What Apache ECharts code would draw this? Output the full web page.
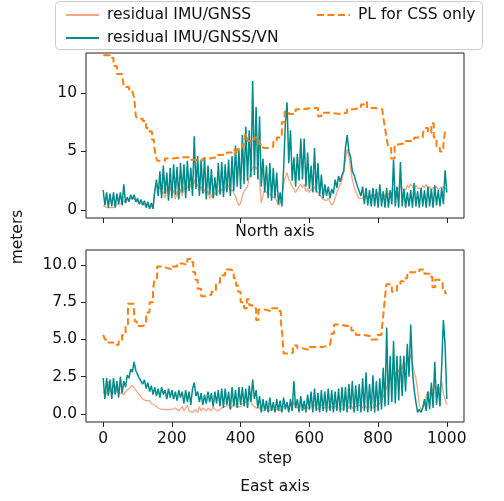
<!DOCTYPE html>
<html><head><meta charset="utf-8">
<script src="https://cdn.jsdelivr.net/npm/echarts@6/dist/echarts.min.js"></script>
<style>html,body{margin:0;padding:0;background:#fff}#c{width:504px;height:501px}</style>
</head><body><div id="c"></div>
<script>
// ---------------- DATA ----------------
const SAMPLE_STEP = 5; // residual arrays: one value every 5 steps, starting at step 0
const xTicks = [0, 200, 400, 600, 800, 1000];
const yTicksNorth = [0, 5, 10];
const yTicksEast = [0, 2.5, 5, 7.5, 10];
const seriesNames = ['residual IMU/GNSS', 'residual IMU/GNSS/VN', 'PL for CSS only'];

// North axis: residual IMU/GNSS
const resNorthGNSS = [
 0.4,0.3,0.2,0.1,0.2,0.3,0.2,0.4,0.3,0.5,
 0.4,0.6,0.8,0.6,0.9,0.8,1.0,0.9,1.0,0.8,
 0.7,0.6,0.7,0.5,0.6,0.4,0.5,0.3,0.4,0.3,
 1.5,2.2,1.8,2.0,1.4,1.6,1.0,1.8,1.3,2.0,
 1.4,1.7,0.9,1.6,1.0,1.8,1.2,2.0,1.5,2.1,
 1.8,2.2,1.7,2.6,2.0,2.2,1.6,2.0,1.4,1.8,
 1.2,1.6,1.0,1.3,1.0,1.5,1.3,1.7,1.4,1.8,
 1.6,1.9,2.0,2.1,1.5,1.8,1.4,1.2,0.7,0.4,
 0.6,1.2,1.6,1.8,2.0,2.8,3.3,3.6,3.8,3.5,
 3.7,2.5,0.6,1.2,1.8,1.5,1.6,1.3,1.4,1.1,
 1.2,0.8,0.4,0.6,1.0,2.2,2.8,3.2,2.6,2.4,
 2.0,1.8,1.5,1.8,2.0,2.2,1.9,2.2,1.6,1.8,
 1.5,1.8,1.6,2.0,1.7,1.5,1.3,1.1,0.9,1.0,
 0.8,1.0,0.7,0.4,0.6,1.0,1.5,1.9,2.2,2.6,
 3.4,4.3,5.2,4.6,3.5,2.6,2.0,1.6,1.2,1.0,
 0.9,1.0,1.1,1.2,1.0,1.3,1.1,1.4,1.2,1.5,
 1.3,1.6,1.2,1.4,1.1,1.5,1.3,1.6,1.4,1.8,
 1.5,1.7,1.6,2.0,1.8,1.9,1.7,2.1,1.9,2.2,
 2.0,1.8,2.1,1.9,2.0,1.8,2.1,1.9,2.2,1.8,
 2.0,1.7,1.9,1.8,2.0,1.7,1.9,1.8,2.0,1.8,
 1.9
];
// North axis: residual IMU/GNSS/VN
const resNorthVN = [
 1.7,0.4,1.5,0.2,1.4,0.3,1.5,0.2,1.4,0.5,
 1.5,0.4,2.2,0.6,1.1,0.7,1.3,0.9,1.3,0.7,
 1.0,0.5,0.9,0.4,0.8,0.2,0.7,0.1,0.6,0.1,
 1.6,2.6,1.2,3.3,1.0,3.8,1.4,3.2,0.8,3.6,
 1.0,3.9,1.3,3.7,0.9,4.0,1.5,3.9,1.0,4.2,
 1.6,3.6,1.2,6.3,1.8,4.6,1.2,4.3,1.4,4.5,
 0.9,3.8,1.3,3.5,1.0,2.8,1.2,4.0,1.3,4.1,
 1.1,3.9,1.5,4.3,1.2,4.6,1.6,5.5,2.0,5.1,
 1.8,6.4,2.2,7.1,2.5,6.8,2.8,11.0,3.0,8.8,
 2.6,8.0,2.0,4.4,1.5,3.8,1.0,4.0,0.8,3.6,
 1.0,3.2,0.5,1.5,0.3,3.5,7.3,9.2,4.0,6.8,
 2.5,4.5,2.0,4.8,2.5,6.1,2.6,6.1,2.0,4.9,
 1.8,3.8,1.5,5.3,1.5,4.0,1.2,3.0,1.0,2.2,
 1.2,2.0,1.0,1.8,1.4,2.6,1.9,2.9,2.4,3.0,
 3.3,5.3,6.4,5.0,4.5,3.3,3.0,2.5,2.0,1.9,
 1.2,2.0,0.5,1.9,0.4,1.7,0.3,1.9,0.3,1.8,
 0.2,2.2,0.3,1.6,0.2,1.9,0.2,1.7,0.5,4.3,
 0.3,2.0,0.2,4.1,0.3,1.8,0.2,1.5,0.3,1.7,
 0.2,2.3,0.3,1.6,0.2,1.9,0.3,1.7,0.2,2.0,
 0.3,1.8,0.2,2.1,0.4,1.7,0.3,1.9,0.5,3.4,
 1.5
];
// North axis: PL for CSS only (step changes)
const plNorthSteps = [0,20,30,40,55,60,75,85,90,95,100,115,125,135,142,148,153,157,170,180,200,230,250,270,290,310,330,360,375,385,390,405,412,420,440,455,465,480,495,505,520,528,540,560,580,610,625,635,660,690,710,730,750,762,768,790,812,815,820,825,830,838,848,858,880,905,930,935,945,955,962,970,980,990,995,1000];
const plNorthValues = [13.2,13.0,12.3,11.6,11.5,10.5,10.3,10.1,9.6,8.0,7.8,7.6,7.0,6.7,6.0,5.5,4.6,4.2,4.2,4.4,4.5,4.5,4.3,4.2,4.4,4.5,4.7,4.9,5.1,4.6,5.2,5.6,6.4,5.9,6.2,5.6,5.3,5.4,5.8,6.2,7.5,8.4,8.2,8.6,8.7,8.7,8.0,8.3,8.2,8.3,8.6,8.7,9.0,9.2,8.7,8.6,8.6,7.9,7.0,6.1,5.3,4.4,5.6,5.7,5.9,6.2,6.5,7.0,6.6,7.4,6.2,5.3,5.0,5.6,6.8,6.8];

// East axis: residual IMU/GNSS
const resEastGNSS = [
 1.4,1.6,1.3,2.2,1.5,1.6,1.4,1.7,1.5,1.6,
 1.4,1.5,1.3,1.5,1.6,1.7,1.6,1.9,1.8,1.6,
 1.5,1.3,1.2,1.0,1.0,0.9,0.8,0.9,0.7,0.6,
 0.6,0.5,0.4,0.5,0.3,0.4,0.3,0.2,0.3,0.2,
 0.3,0.2,0.4,0.3,0.2,0.3,0.5,0.2,0.3,0.6,
 0.2,0.3,0.1,0.2,0.3,0.1,0.5,0.2,0.4,0.3,
 0.2,0.4,0.3,0.2,0.5,0.3,0.4,0.2,0.3,0.4,
 0.3,0.5,0.4,0.6,0.3,0.5,0.4,0.7,0.5,0.6,
 0.5,0.7,0.6,0.8,0.9,1.1,0.8,0.6,0.5,0.4,
 0.3,0.4,0.2,0.3,0.2,0.4,0.3,0.2,0.4,0.3,
 0.2,0.3,0.4,0.2,0.3,0.5,0.4,0.6,0.3,0.7,
 0.5,0.8,0.4,0.3,0.5,0.4,0.6,0.3,0.5,0.4,
 0.3,0.5,0.4,0.6,0.5,0.3,0.4,0.6,0.5,0.4,
 0.5,0.4,0.6,0.5,0.3,0.5,0.6,0.4,0.5,0.3,
 0.4,0.6,0.5,0.4,0.6,0.5,0.3,0.5,0.4,0.6,
 0.5,0.4,0.6,0.5,0.3,0.5,0.6,0.4,0.7,0.5,
 0.5,0.7,0.9,1.0,1.4,1.8,2.0,2.4,2.2,2.8,
 2.6,3.0,2.8,3.3,3.0,3.6,3.2,3.9,3.6,4.0,
 3.4,2.8,2.4,1.6,0.6,0.3,0.2,0.6,1.2,1.5,
 1.3,1.8,1.5,2.0,1.6,1.9,1.6,2.2,1.4,1.0,
 0.6
];
// East axis: residual IMU/GNSS/VN
const resEastVN = [
 2.4,1.0,2.4,1.2,2.3,1.0,2.4,1.3,2.2,1.1,
 2.5,1.4,2.2,1.8,2.6,2.4,3.0,2.8,3.5,2.9,
 3.0,2.4,2.5,2.0,2.3,1.7,2.1,1.5,1.9,1.3,
 1.8,1.2,1.7,1.1,1.8,1.3,1.6,1.0,1.7,1.1,
 1.6,1.0,1.5,0.9,1.6,1.1,1.5,0.7,1.6,0.8,
 1.5,0.6,1.7,2.1,1.2,1.5,0.8,1.4,0.6,1.3,
 0.7,1.5,0.8,1.4,0.5,1.5,0.7,1.6,0.5,1.7,
 0.4,1.7,0.6,1.5,0.3,1.8,0.5,1.6,0.4,1.8,
 0.6,1.8,0.5,1.7,0.4,1.9,0.8,2.3,1.0,1.6,
 0.4,1.2,0.1,1.0,0.2,0.9,0.1,1.1,0.2,0.8,
 0.1,1.0,0.2,0.9,0.1,1.1,0.3,0.8,0.1,1.0,
 0.2,2.2,0.4,1.0,0.1,1.2,0.2,0.9,0.1,1.3,
 0.3,1.5,0.1,1.7,0.2,1.4,0.1,1.6,0.2,1.5,
 0.1,1.7,0.2,1.6,0.1,1.5,0.2,1.7,0.1,1.8,
 0.2,1.8,0.1,2.0,0.3,2.2,0.1,1.9,0.2,2.0,
 0.1,2.4,0.2,2.8,0.1,2.0,0.2,2.6,0.1,2.2,
 0.2,2.4,0.3,3.1,0.5,5.8,0.6,3.9,0.8,4.9,
 0.7,3.9,0.9,3.9,1.2,3.9,1.5,4.7,2.5,6.0,
 2.9,1.6,0.8,0.1,0.3,0.1,0.4,1.0,0.2,1.5,
 0.3,2.1,0.4,3.5,0.6,2.0,0.5,3.2,6.3,4.6,
 1.0
];
// East axis: PL for CSS only (step changes)
const plEastSteps = [0,5,15,30,45,55,65,72,88,92,98,115,125,135,145,150,157,172,185,200,215,230,245,255,262,268,275,285,300,315,328,340,355,370,380,387,393,400,410,418,425,435,445,452,470,490,510,517,521,525,545,552,565,580,600,640,660,665,672,690,710,722,735,760,780,798,810,815,820,824,840,855,865,875,885,905,920,935,950,958,966,978,988,995,1000];
const plEastValues = [5.3,5.0,4.8,4.65,4.95,5.3,6.0,7.4,7.4,6.2,5.9,6.0,6.8,7.5,8.4,9.1,9.9,9.8,9.7,9.9,10.1,10.0,10.4,10.2,9.5,9.0,8.4,7.9,8.0,8.2,8.8,9.3,9.7,9.6,9.1,8.6,8.2,7.5,7.1,7.7,7.3,7.1,6.3,7.0,6.9,7.1,6.9,6.2,5.4,4.05,4.1,4.6,4.4,4.3,4.5,4.6,4.7,5.4,6.0,5.9,5.95,5.6,5.3,5.2,5.0,5.3,5.5,6.6,7.8,8.7,8.2,8.6,8.9,9.1,9.5,9.5,9.7,9.4,9.2,8.5,9.0,8.9,8.4,8.1,8.1];

// ---------------- CHART ----------------
const FONT = 'DejaVu Sans';
const C_GNSS = '#f4a582', C_VN = '#008b8b', C_PL = '#ff7f0e';
const sampled = arr => arr.map((v, i) => [i * SAMPLE_STEP, v]);
const paired = (xs, ys) => xs.map((x, i) => [x, ys[i]]);

const chart = echarts.init(document.getElementById('c'), null, {renderer: 'canvas'});

function xAx(gi, showLabels) {
  return {
    type: 'value', gridIndex: gi, min: -50, max: 1050,
    axisLine: {show: false, onZero: false},
    splitLine: {show: false},
    axisTick: {show: true, inside: false, length: 5, customValues: xTicks, lineStyle: {color: '#222', width: 1}},
    axisLabel: {show: showLabels, customValues: xTicks, margin: 9, color: '#111', fontSize: 15.5, fontFamily: FONT, formatter: v => String(v)}
  };
}
function yAx(gi, mn, mx, ticks, fmt) {
  return {
    type: 'value', gridIndex: gi, min: mn, max: mx,
    axisLine: {show: false, onZero: false},
    splitLine: {show: false},
    axisTick: {show: true, inside: false, length: 5, customValues: ticks, lineStyle: {color: '#222', width: 1}},
    axisLabel: {customValues: ticks, margin: 9, color: '#111', fontSize: 15.5, fontFamily: FONT, formatter: fmt}
  };
}
function line(name, data, xi, color, width, extra) {
  return Object.assign({
    name, type: 'line', xAxisIndex: xi, yAxisIndex: xi, data,
    symbol: 'none', showSymbol: false, animation: false,
    lineStyle: {color, width}, itemStyle: {color}
  }, extra || {});
}

const legendText = {fontSize: 15.5, fontFamily: FONT, color: '#111', padding: [0, 0, 0, 3], lineHeight: 16};

chart.setOption({
  animation: false,
  backgroundColor: '#fff',
  grid: [
    {left: 86, right: 40, top: 53, height: 165, show: true, borderColor: '#222', borderWidth: 1, backgroundColor: 'transparent'},
    {left: 86, right: 40, top: 250, height: 172, show: true, borderColor: '#222', borderWidth: 1, backgroundColor: 'transparent'}
  ],
  xAxis: [xAx(0, false), xAx(1, true)],
  yAxis: [
    yAx(0, -0.68, 13.4, yTicksNorth, v => String(v)),
    yAx(1, -0.54, 11.0, yTicksEast, v => v.toFixed(1))
  ],
  legend: [
    {left: 60, top: 2, orient: 'vertical', data: [seriesNames[0], seriesNames[1]], itemWidth: 33, itemHeight: 14, itemGap: 7,
     textStyle: legendText, selectedMode: false, z: 20, itemStyle: {opacity: 0}},
    {left: 311, top: 2, orient: 'vertical', data: [seriesNames[2]], itemWidth: 33, itemHeight: 14,
     textStyle: legendText, selectedMode: false, z: 20, itemStyle: {opacity: 0}}
  ],
  graphic: [
    {type: 'rect', z: 15, shape: {x: 55.5, y: 1.5, width: 427, height: 48, r: 4},
     style: {fill: 'rgba(255,255,255,0.85)', stroke: '#cccccc', lineWidth: 1}},
    {type: 'text', style: {text: 'North axis', font: '15.5px "DejaVu Sans"', fill: '#111', x: 275, y: 232, align: 'center', verticalAlign: 'middle'}},
    {type: 'text', style: {text: 'step', font: '15.5px "DejaVu Sans"', fill: '#111', x: 275, y: 459, align: 'center', verticalAlign: 'middle'}},
    {type: 'text', style: {text: 'East axis', font: '15.5px "DejaVu Sans"', fill: '#111', x: 275, y: 487, align: 'center', verticalAlign: 'middle'}},
    {type: 'text', rotation: Math.PI / 2, x: 18, y: 237, style: {text: 'meters', font: '15.5px "DejaVu Sans"', fill: '#111', x: 0, y: 0, align: 'center', verticalAlign: 'middle'}}
  ],
  series: [
    line(seriesNames[0], sampled(resNorthGNSS), 0, C_GNSS, 1.3),
    line(seriesNames[1], sampled(resNorthVN), 0, C_VN, 1.5),
    line(seriesNames[2], paired(plNorthSteps, plNorthValues), 0, C_PL, 2, {step: 'end', lineStyle: {color: C_PL, width: 2, type: [7, 3.5]}}),
    line(seriesNames[0], sampled(resEastGNSS), 1, C_GNSS, 1.3),
    line(seriesNames[1], sampled(resEastVN), 1, C_VN, 1.5),
    line(seriesNames[2], paired(plEastSteps, plEastValues), 1, C_PL, 2, {step: 'end', lineStyle: {color: C_PL, width: 2, type: [7, 3.5]}})
  ]
});
</script>
</body></html>
